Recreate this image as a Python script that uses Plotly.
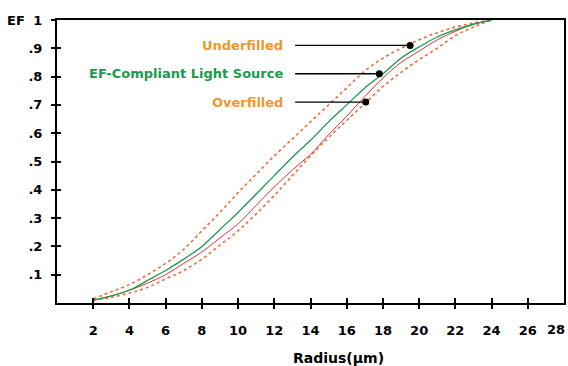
import plotly.graph_objects as go

radius = [2, 3, 4, 5, 6, 7, 8, 9, 10, 11, 12, 13, 14, 15, 16, 17, 18, 19, 20, 21, 22, 23, 24]
underfilled = [0.015, 0.04, 0.065, 0.10, 0.14, 0.19, 0.255, 0.32, 0.39, 0.455, 0.52, 0.58, 0.64,
               0.70, 0.76, 0.82, 0.865, 0.90, 0.93, 0.955, 0.975, 0.99, 1.0]
ef_compliant = [0.01, 0.025, 0.045, 0.08, 0.115, 0.155, 0.20, 0.26, 0.32, 0.385, 0.45, 0.515, 0.575,
                0.64, 0.70, 0.76, 0.81, 0.865, 0.905, 0.94, 0.965, 0.985, 1.0]
reference_red = [0.01, 0.025, 0.045, 0.07, 0.10, 0.14, 0.18, 0.23, 0.28, 0.345, 0.41, 0.47, 0.525,
                 0.595, 0.66, 0.73, 0.795, 0.85, 0.89, 0.93, 0.96, 0.985, 1.0]
overfilled = [0.01, 0.02, 0.035, 0.055, 0.085, 0.115, 0.155, 0.205, 0.255, 0.315, 0.38, 0.45, 0.52,
              0.585, 0.645, 0.705, 0.765, 0.815, 0.86, 0.90, 0.945, 0.975, 1.0]

label_names = ["Underfilled", "EF-Compliant Light Source", "Overfilled"]
label_colors = ["#f0962e", "#1a9a4a", "#f0962e"]
label_x = [19.5, 17.8, 17.05]
label_y = [0.91, 0.81, 0.71]
leader_start_x = 13.15

x_ticks = [2, 4, 6, 8, 10, 12, 14, 16, 18, 20, 22, 24, 26, 28]
y_ticks = [0.1, 0.2, 0.3, 0.4, 0.5, 0.6, 0.7, 0.8, 0.9, 1.0]
y_ticktext = [".1", ".2", ".3", ".4", ".5", ".6", ".7", ".8", ".9", "1"]

FONT = "DejaVu Sans, sans-serif"
dash_col = "#f26a3a"

fig = go.Figure()
fig.add_trace(go.Scatter(x=radius, y=underfilled, mode="lines", line=dict(color=dash_col, width=1.6, dash="3px,3px", shape="spline")))
fig.add_trace(go.Scatter(x=radius, y=overfilled, mode="lines", line=dict(color=dash_col, width=1.6, dash="3px,3px", shape="spline")))
fig.add_trace(go.Scatter(x=radius, y=reference_red, mode="lines", line=dict(color="#e8303a", width=1.0, shape="spline")))
fig.add_trace(go.Scatter(x=radius, y=ef_compliant, mode="lines", line=dict(color="#1a9a50", width=1.3, shape="spline")))

for lx, ly in zip(label_x, label_y):
    fig.add_trace(go.Scatter(x=[leader_start_x, lx], y=[ly, ly], mode="lines",
                             line=dict(color="black", width=1.3)))
fig.add_trace(go.Scatter(x=label_x, y=label_y, mode="markers",
                         marker=dict(color="black", size=7)))

for name, col, ly in zip(label_names, label_colors, label_y):
    fig.add_annotation(x=leader_start_x, y=ly, xref="x", yref="y", text="<b>%s</b>" % name,
                       showarrow=False, xanchor="right", xshift=-10,
                       font=dict(family=FONT, size=13, color=col))

fig.add_annotation(x=0, y=1.0, xref="paper", yref="y", text="<b>EF</b>", showarrow=False,
                   xanchor="right", xshift=-30, font=dict(family=FONT, size=13, color="black"))
fig.add_annotation(x=x_ticks[-1], y=0, xref="x", yref="paper", yshift=-26, xshift=3,
                   text="<b>%d</b>" % x_ticks[-1],
                   showarrow=False, xanchor="right", yanchor="middle",
                   font=dict(family=FONT, size=13, color="black"))
fig.add_annotation(x=0.556, y=0, xref="paper", yref="paper", yshift=-55, text="<b>Radius(µm)</b>",
                   showarrow=False, xanchor="center", yanchor="middle",
                   font=dict(family=FONT, size=14, color="black"))

axis_common = dict(showgrid=False, zeroline=False, showline=True, linecolor="black", linewidth=2,
                   mirror=True, ticks="outside", ticklen=4, tickwidth=1.5, tickcolor="black",
                   automargin=False, tickfont=dict(family=FONT, size=13, color="black"))

fig.update_layout(
    width=568, height=366,
    margin=dict(l=57, r=4, t=20, b=63),
    paper_bgcolor="white", plot_bgcolor="white",
    showlegend=False,
    font=dict(family=FONT, size=13, color="black"),
    xaxis=dict(range=[0, 28], tickvals=x_ticks[:-1], ticktext=["<b>%d</b>" % v for v in x_ticks[:-1]],
               ticklabelstandoff=10, **axis_common),
    yaxis=dict(range=[0, 1], tickvals=y_ticks, ticktext=["<b>%s</b>" % t for t in y_ticktext],
               ticklabelstandoff=6, **axis_common),
    xaxis2=dict(range=[0, 28], overlaying="x", matches="x", tickvals=x_ticks, showticklabels=False,
                ticks="inside", ticklen=5, tickwidth=1.5, tickcolor="black", showgrid=False,
                zeroline=False, showline=False, automargin=False),
    yaxis2=dict(range=[0, 1], overlaying="y", tickvals=y_ticks, showticklabels=False,
                ticks="inside", ticklen=4, tickwidth=1.5, tickcolor="black", showgrid=False,
                zeroline=False, showline=False, automargin=False),
)
fig.add_trace(go.Scatter(x=[None], y=[None], xaxis="x2", yaxis="y2", showlegend=False))

fig.write_html("out.html", config={"displayModeBar": False},
               post_script="document.body.style.margin='0';")
